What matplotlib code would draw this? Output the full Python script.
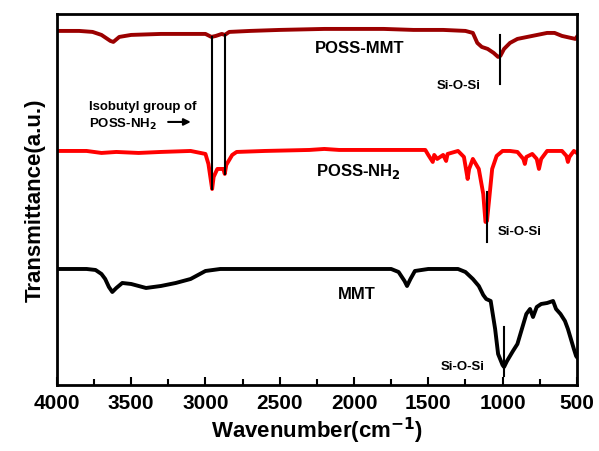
import numpy as np
import matplotlib.pyplot as plt

plt.rcParams['font.family'] = ['Liberation Sans', 'DejaVu Sans']
plt.rcParams['font.weight'] = 'bold'

# 透过率（任意单位）
w_pm = [4000, 3850, 3760, 3700, 3640, 3620, 3580, 3500, 3300, 3100, 3000, 2960, 2930, 2890,
        2870, 2840, 2700, 2500, 2200, 2000, 1800, 1600, 1400, 1250, 1200, 1170, 1140, 1100,
        1060, 1030, 1015, 990, 950, 900, 800, 700, 650, 600, 540, 510, 500]
t_pm = [354, 354, 353, 350, 344, 343, 348, 350, 351, 351, 351, 348, 349, 351,
        350, 353, 354, 355, 356, 356, 356, 355, 355, 354, 352, 342, 338, 336,
        332, 328, 329, 336, 342, 346, 349, 352, 352, 349, 347, 346, 348]

w_nh = [4000, 3800, 3700, 3600, 3450, 3300, 3100, 3000, 2980, 2960, 2955, 2945, 2920, 2880,
        2870, 2860, 2820, 2790, 2600, 2300, 2200, 2100, 1900, 1700, 1600, 1520, 1500, 1470,
        1460, 1440, 1400, 1380, 1370, 1300, 1260, 1235, 1225, 1200, 1160, 1130, 1115, 1105,
        1090, 1070, 1040, 1000, 950, 900, 860, 850, 840, 800, 770, 755, 740, 700, 650, 600,
        570, 560, 550, 520, 500]
t_nh = [234, 234, 232, 233, 232, 233, 234, 231, 221, 201, 196, 208, 216, 216,
        211, 220, 230, 233, 234, 235, 236, 235, 235, 235, 235, 235, 230, 223,
        230, 226, 230, 224, 231, 234, 228, 206, 216, 226, 216, 191, 163, 164,
        186, 216, 229, 234, 234, 233, 226, 221, 228, 231, 226, 216, 226, 234, 234, 234,
        229, 223, 228, 234, 232]

w_mmt = [4000, 3800, 3740, 3700, 3675, 3650, 3627, 3600, 3560, 3500, 3400, 3300, 3200, 3100,
         3000, 2900, 2500, 2000, 1750, 1700, 1660, 1643, 1620, 1590, 1500, 1300, 1250, 1200,
         1160, 1130, 1110, 1080, 1050, 1030, 1000, 990, 970, 930, 900, 860, 840, 815, 795,
         770, 740, 700, 660, 640, 610, 580, 560, 540, 520, 505, 500]
t_mmt = [116, 116, 115, 111, 106, 98, 93, 97, 102, 101, 97, 99, 102, 106,
         114, 116, 116, 116, 116, 113, 104, 99, 106, 114, 116, 116, 113, 106,
         99, 90, 86, 84, 56, 31, 20, 18, 24, 34, 41, 61, 71, 76, 68,
         78, 81, 82, 84, 76, 71, 64, 56, 46, 36, 29, 28]

fig = plt.figure(figsize=(5.99, 4.52), dpi=100)
ax = fig.add_axes([0.095, 0.146, 0.868, 0.821])

ax.plot(w_pm, t_pm, color='#9b0000', lw=2.8, solid_joinstyle='round')
ax.plot(w_nh, t_nh, color='#ff0000', lw=2.8, solid_joinstyle='round')
ax.plot(w_mmt, t_mmt, color='black', lw=2.8, solid_joinstyle='round')

# 标注竖线
ax.plot([2954, 2954], [348, 196], color='black', lw=1.5)
ax.plot([2869, 2869], [350, 211], color='black', lw=1.5)
ax.plot([1017, 1017], [350, 301], color='black', lw=1.5)
ax.plot([1108, 1108], [193, 143], color='black', lw=1.5)
ax.plot([993, 993], [58, 9], color='black', lw=1.5)

ax.text(1963, 337, 'POSS-MMT', ha='center', va='center', fontsize=12, fontweight='bold')
ax.text(1294, 300, 'Si-O-Si', ha='center', va='center', fontsize=9.5, fontweight='bold')
ax.text(3783, 279, 'Isobutyl group of', ha='left', va='center', fontsize=9.5, fontweight='bold')
ax.text(3783, 261, 'POSS-NH$_2$', ha='left', va='center', fontsize=9.5, fontweight='bold')
ax.annotate('', xy=(3080, 263), xytext=(3270, 263),
            arrowprops=dict(arrowstyle='-|>', color='black', lw=1.5, mutation_scale=10))
ax.text(1967, 214, 'POSS-NH$_2$', ha='center', va='center', fontsize=12, fontweight='bold')
ax.text(885, 154, 'Si-O-Si', ha='center', va='center', fontsize=9.5, fontweight='bold')
ax.text(1979, 91, 'MMT', ha='center', va='center', fontsize=12, fontweight='bold')
ax.text(1270, 19, 'Si-O-Si', ha='center', va='center', fontsize=9.5, fontweight='bold')

ax.set_xlim(4000, 500)
ax.set_ylim(0, 371)
ax.set_xticks(np.arange(4000, 499, -500))
ax.set_xticks(np.arange(3750, 500, -500), minor=True)
ax.set_yticks([])
ax.tick_params(axis='x', direction='in', length=6, width=1.5, labelsize=15, pad=6)
ax.tick_params(axis='x', which='minor', direction='in', length=4, width=1.5)
for lab in ax.get_xticklabels():
    lab.set_fontweight('bold')
for s in ax.spines.values():
    s.set_linewidth(2)

ax.set_xlabel('Wavenumber(cm$^{-1}$)', fontsize=16, fontweight='bold', labelpad=2)
ax.set_ylabel('Transmittance(a.u.)', fontsize=16, fontweight='bold', labelpad=8)

fig.savefig('out.png', dpi=100)
